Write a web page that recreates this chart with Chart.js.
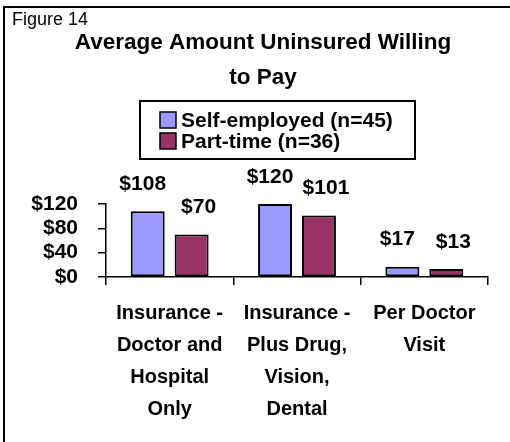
<!DOCTYPE html>
<html>
<head>
<meta charset="utf-8">
<script src="https://cdn.jsdelivr.net/npm/chart.js@4"></script>
<style>
    body { margin: 0; background: #fff; }
    canvas { display: block; }
</style>
</head>
<body>
<canvas id="myChart" width="510" height="442"></canvas>
<script>
const categories = [
    ['Insurance -', 'Doctor and', 'Hospital', 'Only'],
    ['Insurance -', 'Plus Drug,', 'Vision,', 'Dental'],
    ['Per Doctor', 'Visit']
];
const selfEmployed = [108, 120, 17];
const partTime = [70, 101, 13];
const seriesNames = ['Self-employed (n=45)', 'Part-time (n=36)'];
const yTicks = [0, 40, 80, 120];
const titleLines = ['Average Amount Uninsured Willing', 'to Pay'];

const FONT = "'Liberation Sans', Arial, sans-serif";
Chart.defaults.color = '#000';
Chart.defaults.font.family = FONT;

// frame, figure number, title, boxed legend
const decorPlugin = {
    id: 'decor',
    afterDraw(chart) {
        const ctx = chart.ctx;
        ctx.save();
        ctx.strokeStyle = '#000';
        ctx.lineWidth = 2;
        ctx.strokeRect(4, 7, 600, 600);

        ctx.fillStyle = '#000';
        ctx.font = '18px ' + FONT;
        ctx.textAlign = 'left';
        ctx.textBaseline = 'alphabetic';
        ctx.fillText('Figure 14', 12, 25);

        ctx.font = 'bold 22.5px ' + FONT;
        ctx.textAlign = 'center';
        ctx.textBaseline = 'middle';
        titleLines.forEach(function (t, i) {
            ctx.fillText(t, 263, 43 + i * 35);
        });

        // legend
        ctx.strokeRect(140, 101, 275, 58);
        ctx.font = 'bold 21px ' + FONT;
        ctx.textAlign = 'left';
        chart.data.datasets.forEach(function (ds, i) {
            let y = 120 + i * 21;
            ctx.fillStyle = ds.backgroundColor;
            ctx.fillRect(160, y - 8, 16, 16);
            ctx.lineWidth = 1.5;
            ctx.strokeRect(160, y - 8, 16, 16);
            ctx.fillStyle = '#000';
            ctx.fillText(ds.label, 181, y + 1);
        });
        ctx.restore();
    }
};

// value labels above bars
const valuePlugin = {
    id: 'values',
    afterDatasetsDraw(chart) {
        const ctx = chart.ctx;
        ctx.save();
        ctx.fillStyle = '#000';
        ctx.font = 'bold 21px ' + FONT;
        ctx.textAlign = 'center';
        ctx.textBaseline = 'middle';
        chart.data.datasets.forEach(function (ds, i) {
            chart.getDatasetMeta(i).data.forEach(function (bar, j) {
                ctx.fillText('$' + ds.data[j], bar.x + ds.labelShift, bar.y - 27);
            });
        });
        ctx.restore();
    }
};

const ctx = document.getElementById('myChart');
new Chart(ctx, {
    type: 'bar',
    data: {
        labels: categories,
        datasets: [{
            label: seriesNames[0],
            data: selfEmployed,
            backgroundColor: '#9999FF',
            borderColor: '#000',
            borderWidth: 2,
            borderSkipped: false,
            categoryPercentage: 0.69,
            barPercentage: 0.773,
            labelShift: -5
        }, {
            label: seriesNames[1],
            data: partTime,
            backgroundColor: '#993366',
            borderColor: '#000',
            borderWidth: 2,
            borderSkipped: false,
            categoryPercentage: 0.69,
            barPercentage: 0.773,
            labelShift: 7
        }]
    },
    options: {
        responsive: false,
        animation: false,
        layout: {
            padding: { left: 20, right: 22, top: 204, bottom: 0 }
        },
        plugins: {
            legend: { display: false },
            tooltip: { enabled: false },
            title: { display: false }
        },
        scales: {
            x: {
                grid: {
                    drawOnChartArea: false,
                    drawTicks: true,
                    tickLength: 8,
                    color: '#000',
                    lineWidth: 1.5
                },
                border: { color: '#000', width: 1.5 },
                ticks: {
                    color: '#000',
                    font: { size: 20, weight: 'bold', lineHeight: 1.6 },
                    padding: 12,
                    maxRotation: 0,
                    autoSkip: false
                },
                afterFit: function (scale) { scale.height = 165; }
            },
            y: {
                min: 0,
                max: 120,
                afterBuildTicks: function (scale) {
                    scale.ticks = yTicks.map(v => ({ value: v }));
                },
                grid: {
                    drawOnChartArea: false,
                    drawTicks: true,
                    tickLength: 8,
                    color: '#000',
                    lineWidth: 1.5
                },
                border: { color: '#000', width: 1.5 },
                ticks: {
                    color: '#000',
                    font: { size: 21, weight: 'bold' },
                    padding: 20,
                    autoSkip: false,
                    callback: v => '$' + v
                },
                afterFit: function (scale) { scale.width = 86; }
            }
        }
    },
    plugins: [decorPlugin, valuePlugin]
});
</script>
</body>
</html>
